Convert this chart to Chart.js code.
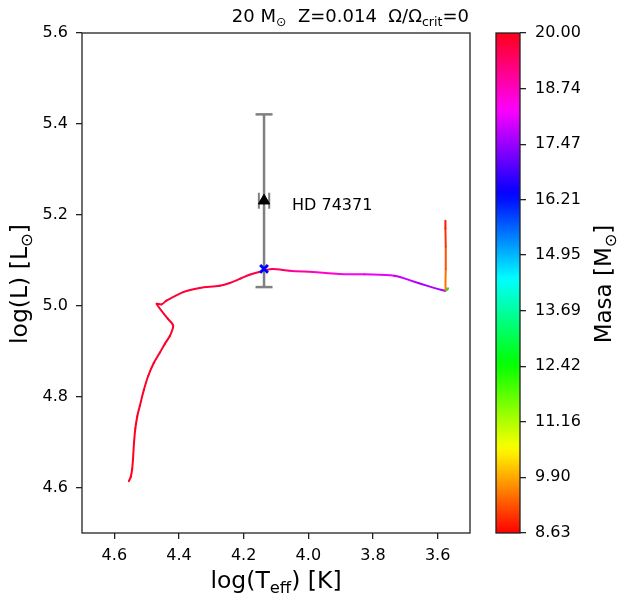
<!DOCTYPE html>
<html><head><meta charset="utf-8">
<script src="https://cdn.jsdelivr.net/npm/chart.js@4"></script>
<style>
html,body{margin:0;padding:0;background:#fff;}
#wrap{position:relative;width:624px;height:601px;overflow:hidden;font-family:'DejaVu Sans',sans-serif;color:#000;}
canvas{position:absolute;left:0;top:0;}
.lbl{position:absolute;white-space:nowrap;line-height:1;}
.sub{font-size:70%;position:relative;top:0.3em;}
#title{right:155px;top:7px;font-size:18px;}
#xlab{left:76px;width:400px;text-align:center;top:569px;font-size:23.5px;}
#ylab{left:-130px;width:300px;text-align:center;top:272px;font-size:23.5px;transform:rotate(-90deg);transform-origin:150px 12px;}
#cblab{left:454px;width:300px;text-align:center;top:272px;font-size:23px;transform:rotate(-90deg);transform-origin:150px 12px;}
</style></head><body>
<div id="wrap">
<canvas id="main" width="624" height="601"></canvas>
<canvas id="cbar" width="624" height="601"></canvas>
<div class="lbl" id="title">20 M<span class="sub">⊙</span>&nbsp; Z=0.014&nbsp; Ω/Ω<span class="sub">crit</span>=0</div>
<div class="lbl" id="xlab">log(T<span class="sub">eff</span>) [K]</div>
<div class="lbl" id="ylab">log(L) [L<span class="sub">⊙</span>]</div>
<div class="lbl" id="cblab">Masa [M<span class="sub">⊙</span>]</div>
</div>
<script>
// ---- data ----
const teff = [4.555, 4.549, 4.545, 4.542, 4.539, 4.535, 4.529, 4.521, 4.509, 4.495, 4.478, 4.459, 4.444, 4.428, 4.418, 4.434, 4.469, 4.454, 4.439, 4.387, 4.336, 4.274, 4.243, 4.212, 4.182, 4.138, 4.110, 4.058, 3.986, 3.904, 3.827, 3.734, 3.660, 3.577, 3.568, 3.575, 3.575, 3.575, 3.576, 3.576];
const logL = [4.614, 4.624, 4.640, 4.665, 4.700, 4.730, 4.757, 4.780, 4.814, 4.846, 4.874, 4.897, 4.916, 4.934, 4.956, 4.971, 5.004, 5.003, 5.011, 5.030, 5.039, 5.044, 5.050, 5.059, 5.068, 5.077, 5.081, 5.077, 5.074, 5.070, 5.069, 5.066, 5.050, 5.033, 5.038, 5.034, 5.080, 5.130, 5.170, 5.187];
const mass = [19.98, 19.97, 19.96, 19.95, 19.94, 19.93, 19.92, 19.91, 19.90, 19.89, 19.88, 19.87, 19.86, 19.85, 19.84, 19.83, 19.82, 19.81, 19.80, 19.78, 19.76, 19.73, 19.71, 19.68, 19.65, 19.60, 19.45, 19.00, 18.60, 18.30, 18.10, 17.80, 17.60, 17.40, 12.42, 9.50, 9.25, 9.00, 8.80, 8.63];
const starName = 'HD 74371';
const starTeff = 4.137, starL = 5.231, starErrL = 0.19, starErrTeff = 0.016;
const modelTeff = 4.137, modelL = 5.081;
const xTicks = [4.6, 4.4, 4.2, 4.0, 3.8, 3.6];
const yTicks = [4.6, 4.8, 5.0, 5.2, 5.4, 5.6];
const cbTicks = [8.63, 9.90, 11.16, 12.42, 13.69, 14.95, 16.21, 17.47, 18.74, 20.00];
const xRange = [3.5, 4.7], yRange = [4.5, 5.6];
const massRange = [8.63, 20.00];

// ---- matplotlib 'hsv' colormap ----
const HSV = {
 r: [[0,1],[0.15873,1],[0.174603,0.96875],[0.333333,0.03125],[0.349206,0],[0.666667,0],[0.68254,0.03125],[0.84127,0.96875],[0.857143,1],[1,1]],
 g: [[0,0],[0.15873,0.9375],[0.174603,1],[0.507937,1],[0.666667,0.0625],[0.68254,0],[1,0]],
 b: [[0,0],[0.333333,0],[0.349206,0.0625],[0.507937,1],[0.84127,1],[0.857143,0.9375],[1,0.09375]]
};
function interp(arr, t){
  for (let i=1;i<arr.length;i++){ if (t<=arr[i][0]){ const [x0,y0]=arr[i-1],[x1,y1]=arr[i]; return y0+(y1-y0)*(t-x0)/(x1-x0);} }
  return arr[arr.length-1][1];
}
function cmap(t){
  t=Math.max(0,Math.min(1,t));
  return 'rgb('+Math.round(255*interp(HSV.r,t))+','+Math.round(255*interp(HSV.g,t))+','+Math.round(255*interp(HSV.b,t))+')';
}
function massColor(m){ return cmap((m-massRange[0])/(massRange[1]-massRange[0])); }

Chart.defaults.font.family = "'DejaVu Sans', sans-serif";
Chart.defaults.font.size = 16;
Chart.defaults.color = '#000';
const AX = '#222';

const framePlugin = {
  id:'frame',
  afterDraw(chart){
    const {ctx, chartArea:a} = chart;
    ctx.save(); ctx.strokeStyle = AX; ctx.lineWidth = 1.3;
    ctx.strokeRect(a.left, a.top, a.right-a.left, a.bottom-a.top);
    ctx.restore();
  }
};
const labelPlugin = {
  id:'starLabel',
  afterDatasetsDraw(chart){
    const {ctx, scales} = chart;
    const px = scales.x.getPixelForValue(starTeff), py = scales.y.getPixelForValue(starL);
    ctx.save(); ctx.fillStyle = '#000'; ctx.font = "16px 'DejaVu Sans'";
    ctx.textAlign = 'left'; ctx.textBaseline = 'middle';
    ctx.fillText(starName, px + 28, py + 5);
    ctx.restore();
  }
};

const trackData = teff.map((t,i)=>({x:t, y:logL[i]}));
const gridOpts = {display:true, drawOnChartArea:false, drawTicks:true, tickLength:6, color:AX, lineWidth:1.3};

new Chart(document.getElementById('main'), {
  type:'scatter',
  data:{datasets:[
    {label:'track', data:trackData, showLine:true, pointRadius:0, borderWidth:2, tension:0.3, order:5,
     borderColor:massColor(mass[0]), borderJoinStyle:'round', borderCapStyle:'round',
     segment:{borderColor: c => massColor(mass[c.p0DataIndex])}},
    {label:'errL', data:[{x:starTeff,y:starL-starErrL},{x:starTeff,y:starL+starErrL}], showLine:true,
     borderColor:'#808080', borderWidth:2.5, pointStyle:'line', pointRadius:8.5, pointBorderWidth:2.5,
     pointBorderColor:'#808080', order:4},
    {label:'errT', data:[{x:starTeff-starErrTeff,y:starL},{x:starTeff+starErrTeff,y:starL}], showLine:true,
     borderColor:'#808080', borderWidth:2, pointStyle:'line', rotation:90, pointRadius:8, pointBorderWidth:2,
     pointBorderColor:'#808080', order:3},
    {label:'star', data:[{x:starTeff,y:starL}], pointStyle:'triangle', pointRadius:6.5,
     backgroundColor:'#000', borderColor:'#000', borderWidth:1, order:2},
    {label:'model', data:[{x:modelTeff,y:modelL}], pointStyle:'crossRot', pointRadius:5.5,
     borderColor:'#0000ff', borderWidth:3, order:1}
  ]},
  options:{
    responsive:false, animation:false, devicePixelRatio:1, events:[],
    layout:{padding:{top:33,right:154,bottom:0,left:0}},
    plugins:{legend:{display:false}, tooltip:{enabled:false}},
    scales:{
      x:{type:'linear', reverse:true, min:xRange[0], max:xRange[1],
         afterBuildTicks: s => { s.ticks = xTicks.map(v=>({value:v})); },
         afterFit: s => { s.height = 68; },
         ticks:{autoSkip:false, maxRotation:0, padding:7, callback:v=>v.toFixed(1), color:'#000'},
         grid:gridOpts, border:{display:false}},
      y:{type:'linear', min:yRange[0], max:yRange[1],
         afterBuildTicks: s => { s.ticks = yTicks.map(v=>({value:v})); },
         afterFit: s => { s.width = 82; },
         ticks:{autoSkip:false, padding:8, callback:v=>v.toFixed(1), color:'#000'},
         grid:gridOpts, border:{display:false}}
    }
  },
  plugins:[framePlugin, labelPlugin]
});

// ---- colour bar ----
new Chart(document.getElementById('cbar'), {
  type:'bar',
  data:{labels:['Masa'], datasets:[{data:[massRange],
    backgroundColor: c => {
      const a = c.chart.chartArea; if (!a) return '#f00';
      const g = c.chart.ctx.createLinearGradient(0, a.bottom, 0, a.top);
      for (let i=0;i<=100;i++){ const t=i/100; g.addColorStop(t, cmap(t)); }
      return g;
    },
    borderWidth:0, barPercentage:1, categoryPercentage:1}]},
  options:{
    responsive:false, animation:false, devicePixelRatio:1, events:[],
    layout:{padding:{top:33,right:0,bottom:68,left:496}},
    plugins:{legend:{display:false}, tooltip:{enabled:false}},
    scales:{
      x:{display:false},
      y:{position:'right', min:massRange[0], max:massRange[1],
         afterBuildTicks: s => { s.ticks = cbTicks.map(v=>({value:v})); },
         afterFit: s => { s.width = 104; },
         ticks:{autoSkip:false, padding:9, callback:v=>v.toFixed(2), color:'#000'},
         grid:gridOpts, border:{display:false}}
    }
  },
  plugins:[framePlugin]
});
</script>
</body></html>
